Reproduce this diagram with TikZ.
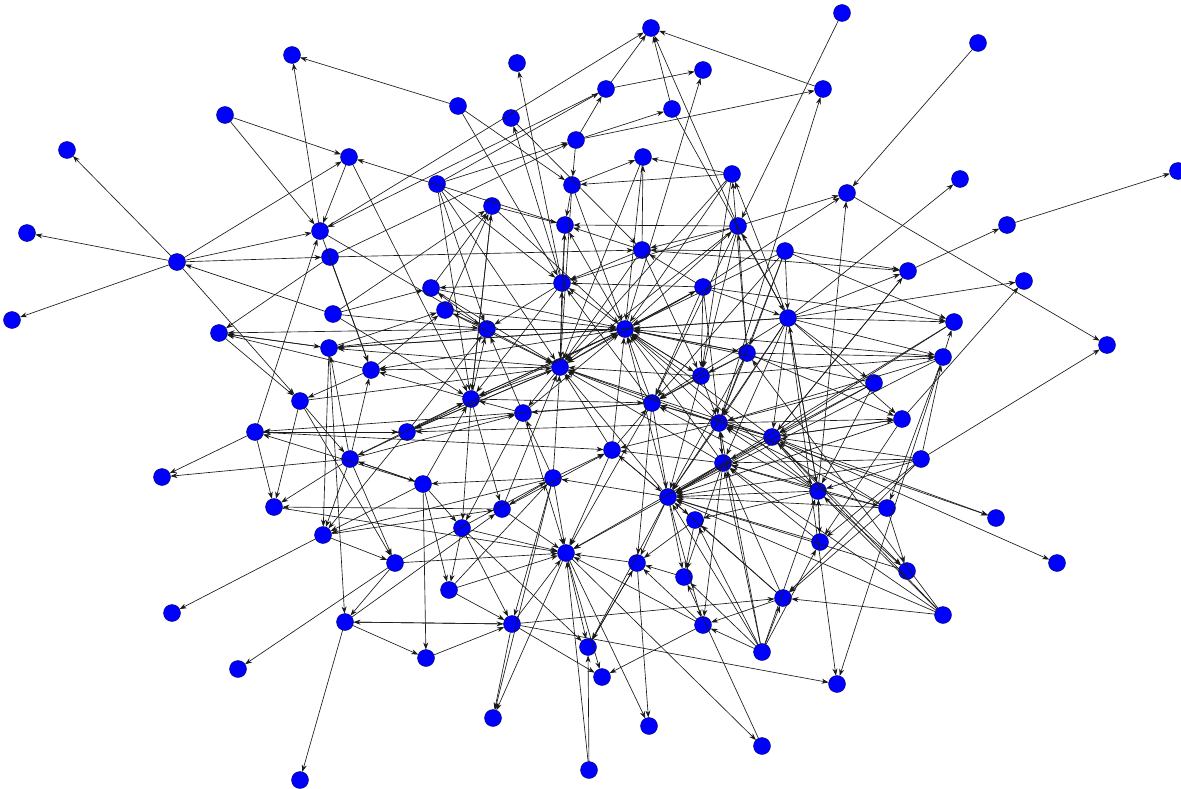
\documentclass[tikz,border=0pt]{standalone}
\usetikzlibrary{arrows.meta}
\definecolor{vfill}{RGB}{0,0,255}
\definecolor{vline}{RGB}{0,0,110}
\tikzset{
  vert/.style={circle,fill=vfill,draw=vline,line width=0.4pt,minimum size=17pt,inner sep=0pt,outer sep=0pt},
  edge/.style={line width=0.65pt,draw=black!90,-{Stealth[length=7pt,width=5pt]}}
}
\begin{document}
\begin{tikzpicture}[x=1pt,y=-1pt]
\useasboundingbox (0,0) rectangle (1181,789);
\fill[white] (0,0) rectangle (1181,789);
\foreach \i/\x/\y in {1/842/13,2/978/43,3/651/28,4/292/55,5/517/63,6/703/70,7/606/89,8/823/89,9/458/106,10/511/118,
11/672/109,12/225/115,13/576/140,14/67/150,15/349/157,16/643/157,17/437/184,18/572/185,19/732/174,20/960/179,
21/847/193,22/1178/171,23/492/206,24/27/233,25/320/231,26/565/225,27/738/226,28/1007/225,29/177/262,30/330/257,
31/642/250,32/785/251,33/908/271,34/1024/281,35/12/320,36/333/314,37/431/288,38/562/283,39/703/287,40/445/310,
41/487/329,42/625/329,43/788/318,44/954/322,45/219/333,46/329/348,47/747/353,48/943/357,49/1107/345,50/371/370,
51/560/367,52/701/376,53/874/383,54/300/401,55/471/399,56/523/413,57/652/403,58/902/419,59/255/432,60/407/432,
61/719/423,62/772/437,63/612/450,64/350/459,65/723/463,66/921/459,67/162/477,68/423/484,69/553/478,70/668/497,
71/818/491,72/274/507,73/502/509,74/887/508,75/996/518,76/462/528,77/695/520,78/323/535,79/820/542,80/566/553,
81/637/563,82/395/563,83/684/577,84/907/571,85/1057/563,86/449/590,87/783/598,88/172/613,89/943/615,90/345/622,
91/512/624,92/703/625,93/588/647,94/426/658,95/762/652,96/602/677,97/238/669,98/837/684,99/493/718,100/649/726,
101/762/746,102/300/780,103/589/770}
  \node[vert] (n\i) at (\x,\y) {};
\foreach \a/\b in {29/14,29/24,29/35,29/15,29/25,29/30,29/54,36/29,
12/15,12/25,9/4,25/4,15/25,15/55,7/25,26/15,
30/45,46/45,45/46,50/45,45/54,30/50,25/50,30/31,30/13,25/41,41/45,51/46,
36/37,36/23,41/46,46/78,46/90,64/46,43/46,
59/67,64/67,59/72,54/72,64/72,73/72,60/59,68/59,59/25,57/59,
60/64,68/64,64/68,54/64,64/82,64/78,60/78,68/78,69/78,78/88,78/82,54/82,
82/97,82/90,90/102,90/91,90/94,91/90,68/94,68/86,76/86,
50/54,51/50,42/50,55/50,64/50,
51/60,42/60,59/60,61/60,
8/3,7/3,11/3,25/3,27/3,7/6,42/6,13/11,13/8,13/7,13/18,17/13,
9/18,9/38,38/5,38/10,10/31,23/26,18/16,19/16,18/26,31/16,18/42,16/42,
27/31,27/21,39/21,2/21,1/27,21/49,17/7,17/51,17/41,17/38,19/18,19/51,27/51,
43/19,47/19,19/42,11/43,27/26,31/26,39/31,32/31,43/27,47/27,61/8,42/27,
37/23,40/23,55/23,38/26,42/26,51/38,42/38,39/38,31/38,38/37,57/38,27/38,
32/43,32/44,32/33,31/33,39/44,43/33,43/34,43/44,62/33,43/20,33/28,28/22,
43/48,47/48,48/44,52/48,43/53,43/58,32/42,32/57,
42/39,39/42,42/47,39/43,39/52,31/52,42/52,47/52,
43/42,47/42,52/42,57/42,61/42,62/42,65/42,70/42,63/42,51/42,41/42,40/42,37/42,55/42,56/42,48/42,53/42,71/42,46/42,23/42,
42/55,51/55,41/51,60/51,57/51,63/51,69/51,70/51,61/51,65/51,52/51,73/51,62/51,37/51,40/51,
41/40,55/41,60/41,56/41,41/37,50/40,46/40,
56/55,60/55,68/55,55/76,55/57,55/73,
51/56,57/56,69/56,56/76,56/80,
63/57,47/57,61/57,52/57,57/70,57/81,57/80,
69/63,73/63,65/63,61/63,63/70,63/80,
62/61,65/61,43/61,47/61,53/61,52/61,61/70,61/75,61/58,61/65,
43/62,66/62,53/62,89/62,74/62,62/65,62/70,62/71,62/58,62/75,62/85,
71/65,74/65,89/65,65/70,65/80,65/92,65/83,
70/69,69/73,69/80,69/68,69/91,69/99,
73/80,68/76,76/91,76/80,76/93,
71/70,74/70,52/70,47/70,95/70,87/70,89/70,79/70,
70/80,70/81,70/77,70/93,70/63,70/92,70/83,
81/80,91/80,86/80,103/80,80/99,80/100,80/96,80/93,80/101,
87/77,95/77,71/77,77/83,
92/81,81/100,81/93,
95/83,95/92,87/92,92/96,
89/47,47/58,
53/71,
66/71,89/71,43/71,79/71,95/71,71/74,71/84,71/79,71/43,71/21,
48/74,74/87,74/84,62/84,
66/79,58/79,95/79,58/34,
89/87,66/87,95/87,91/87,
43/98,48/98,91/98,
91/96,91/99,
66/49,66/48,
38/41,38/55,26/51,31/51,39/51,39/57,39/61,43/57,43/65,43/70,32/47,32/61,
27/52,27/57,19/52,16/51,18/51,23/55,17/55,36/41,36/55,60/56,64/55,64/56,
86/69,82/69,78/73,54/51,62/57,71/57,71/61,74/61,66/70,66/65,79/65,84/70,
87/65,83/81,77/81,92/80,95/61,95/65,53/70,58/62,58/70,48/70,44/70,44/62,
48/61,33/62,59/63,72/80,82/80,86/91,94/91,90/73,93/81,103/93,101/83}
  \draw[edge] (n\a) -- (n\b);
\end{tikzpicture}
\end{document}
